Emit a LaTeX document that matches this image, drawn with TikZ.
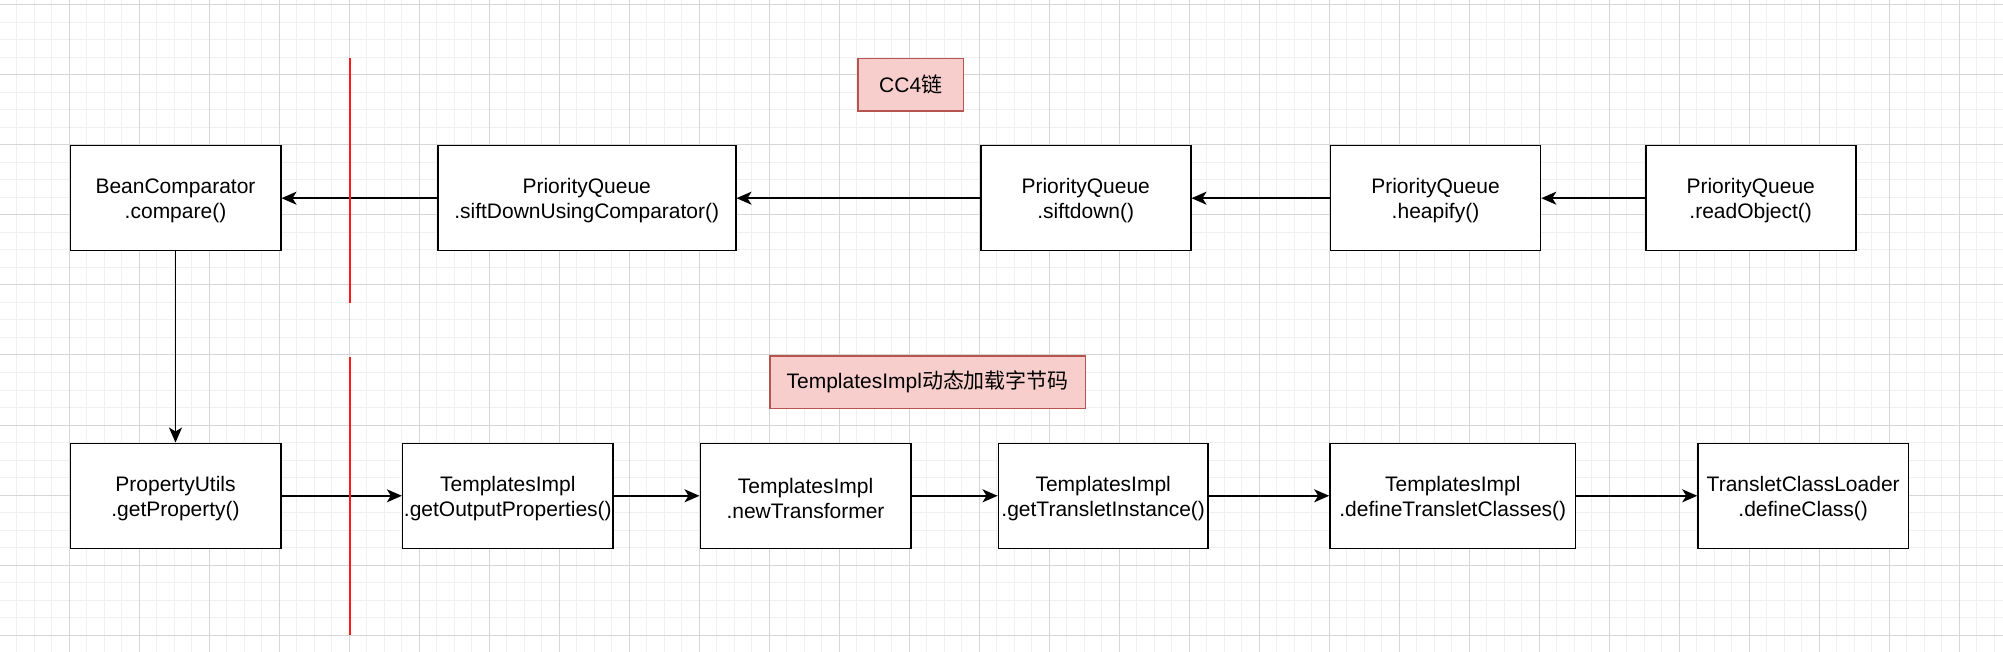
\documentclass[tikz,border=0pt]{standalone}
\usepackage{fontspec}
\setmainfont{Liberation Sans}
\newfontfamily\cjkfont{Noto Sans CJK SC}
\usetikzlibrary{arrows.meta}
\definecolor{gridminor}{HTML}{F0F0F0}
\definecolor{gridmajor}{HTML}{D6D6D6}
\definecolor{lblfill}{HTML}{F8CECC}
\definecolor{lbldraw}{HTML}{B85450}
\definecolor{redline}{HTML}{FF1A1A}
\tikzset{
  box/.style={draw=black, fill=white, line width=1.6pt, inner sep=0pt,
    minimum height=105pt},
  boxtext/.style={align=center, text=black, inner sep=0pt, yshift=-2.3pt,
    font=\fontsize{21}{25}\selectfont},
  lbl/.style={draw=lbldraw, fill=lblfill, line width=1.6pt, inner sep=0pt,
    minimum height=52.6pt, align=center, text=black,
    font=\fontsize{21}{25}\selectfont},
  conn/.style={line width=1.6pt, -{Stealth[length=15pt, width=13pt, inset=4pt]}},
  sep/.style={draw=redline, line width=1.6pt},
}
\begin{document}
\begin{tikzpicture}[x=1pt, y=-1pt]
\useasboundingbox (0,0) rectangle (2003,652);
\fill[white] (0,0) rectangle (2003,652);
% grid
\foreach \i in {0,...,115} \draw[gridminor, line width=1pt] ({\i*17.5-0.7},0) -- ++(0,652);
\foreach \j in {-1,...,37} \draw[gridminor, line width=1pt] (0,{\j*17.5+5}) -- ++(2003,0);
\foreach \i in {1,...,28} \draw[gridmajor, line width=1pt] ({\i*70-0.7},0) -- ++(0,652);
\foreach \j in {0,...,9} \draw[gridmajor, line width=1pt] (0,{\j*70+5}) -- ++(2003,0);

% top row
\node[box, minimum width=210.4pt, label={[boxtext]center:{BeanComparator\\.compare()}}] (bean) at (175.5,198.2) {};
\node[box, minimum width=298pt, label={[boxtext]center:{PriorityQueue\\.siftDownUsingComparator()}}] (sdc) at (586.7,198.2) {};
\node[box, minimum width=210pt, label={[boxtext]center:{PriorityQueue\\.siftdown()}}] (sd) at (1085.7,198.2) {};
\node[box, minimum width=210pt, label={[boxtext]center:{PriorityQueue\\.heapify()}}] (heap) at (1435.5,198.2) {};
\node[box, minimum width=210pt, label={[boxtext]center:{PriorityQueue\\.readObject()}}] (ro) at (1750.7,198.2) {};

% bottom row
\node[box, minimum width=210.4pt, label={[boxtext]center:{PropertyUtils\\.getProperty()}}] (pu) at (175.5,495.8) {};
\node[box, minimum width=210.3pt, label={[boxtext]center:{TemplatesImpl\\.getOutputProperties()}}] (gop) at (507.8,495.8) {};
\node[box, minimum width=210.4pt, label={[boxtext]center:{TemplatesImpl\\.newTransformer}}] (nt) at (805.5,495.8) {};
\node[box, minimum width=209.7pt, label={[boxtext]center:{TemplatesImpl\\.getTransletInstance()}}] (gti) at (1103.2,495.8) {};
\node[box, minimum width=245.6pt, label={[boxtext]center:{TemplatesImpl\\.defineTransletClasses()}}] (dtc) at (1452.8,495.8) {};
\node[box, minimum width=210.3pt, label={[boxtext]center:{TransletClassLoader\\.defineClass()}}] (tcl) at (1803.2,495.8) {};

% labels
\node[lbl, minimum width=105.3pt] (cc4) at (910.7,84.7) {CC4{\cjkfont 链}};
\node[lbl, minimum width=315.7pt] (tpl) at (927.8,382) {TemplatesImpl{\cjkfont 动态加载字节码}};

% connectors
\draw[conn] (ro) -- (heap);
\draw[conn] (heap) -- (sd);
\draw[conn] (sd) -- (sdc);
\draw[conn] (sdc) -- (bean);
\draw[conn] (bean) -- (pu);
\draw[conn] (pu) -- (gop);
\draw[conn] (gop) -- (nt);
\draw[conn] (nt) -- (gti);
\draw[conn] (gti) -- (dtc);
\draw[conn] (dtc) -- (tcl);

% red separators
\coordinate (r1a) at (350,58.3);
\coordinate (r1b) at (350,303.3);
\coordinate (r2a) at (350,356.5);
\coordinate (r2b) at (350,635);
\draw[sep] (r1a) -- (r1b);
\draw[sep] (r2a) -- (r2b);
\end{tikzpicture}
\end{document}
